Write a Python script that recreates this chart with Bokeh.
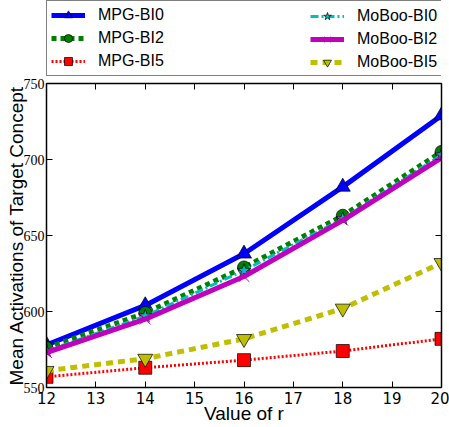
from bokeh.plotting import figure
from bokeh.layouts import column
from bokeh.models import (Range1d, LinearAxis, SingleIntervalTicker, Legend, LegendItem,
                          ColumnDataSource, CustomJSTickFormatter)
from bokeh.embed import file_html
from bokeh.resources import INLINE

# Value of r on the x axis
r = [12, 14, 16, 18, 20]

# Mean activations of the target concept for each method
mpg_bi0 = [578, 604, 638, 682, 729]
mpg_bi2 = [576, 599, 629, 663, 705]
mpg_bi5 = [557, 563, 568, 574, 582]
moboo_bi0 = [574, 597, 627, 661, 703]
moboo_bi2 = [573, 595, 623, 660, 701]
moboo_bi5 = [561, 569, 582, 602, 632]

x_ticks_interval = 1
y_ticks_interval = 50

series = [
    ("MPG-BI0", mpg_bi0, "#0000ff", "solid", 5, "triangle", 15),
    ("MPG-BI2", mpg_bi2, "#008000", "5 4", 5, "circle", 13),
    ("MPG-BI5", mpg_bi5, "#ff0000", "2 2", 3, "square", 13),
    ("MoBoo-BI0", moboo_bi0, "#00bfbf", "8 3 2 3", 3, "star", 14),
    ("MoBoo-BI2", moboo_bi2, "#bf00bf", "solid", 5, "x", 15),
    ("MoBoo-BI5", moboo_bi5, "#bfbf00", "7 5", 5, "inverted_triangle", 15),
]
sources = [ColumnDataSource(dict(x=r, y=vals)) for _, vals, *_ in series]


def draw_series(fig, src, color, dash, lw, marker, size):
    ln = fig.line("x", "y", source=src, line_color=color, line_width=lw, line_dash=dash)
    if marker == "x":
        sc = fig.scatter("x", "y", source=src, marker=marker, size=size,
                         line_color=color, line_width=1)
    else:
        sc = fig.scatter("x", "y", source=src, marker=marker, size=size,
                         fill_color=color, line_color="black", line_width=0.7)
    return ln, sc


# ---- main chart ----
p = figure(width=449, height=350, output_backend="svg", toolbar_location=None,
           x_range=Range1d(12, 20), y_range=Range1d(550, 750),
           min_border_left=46, min_border_right=8, min_border_top=6, min_border_bottom=40,
           x_axis_label="Value of r", y_axis_label="Mean Activations of Target Concept")
p.grid.visible = False
p.outline_line_color = None
p.background_fill_color = "white"
p.border_fill_color = "white"

for ax in p.xaxis:
    ax.ticker = SingleIntervalTicker(interval=x_ticks_interval)
for ax in p.yaxis:
    ax.ticker = SingleIntervalTicker(interval=y_ticks_interval)

for ax in list(p.xaxis) + list(p.yaxis):
    ax.major_tick_in = 6
    ax.major_tick_out = 0
    ax.minor_tick_in = 0
    ax.minor_tick_out = 0
    ax.axis_line_color = "black"
    ax.axis_line_width = 1.5
    ax.major_tick_line_color = "black"
    ax.major_tick_line_width = 1
    ax.axis_label_text_font = "Liberation Sans"
    ax.axis_label_text_font_style = "normal"
    ax.axis_label_text_font_size = "19px"
    ax.axis_label_text_color = "black"
    ax.major_label_text_color = "black"

p.xaxis.major_label_text_font = "DejaVu Sans"
p.xaxis.major_label_text_font_size = "15px"
p.xaxis.major_label_standoff = 4
p.xaxis.axis_label_standoff = -4
p.yaxis.major_label_text_font = "Liberation Sans Narrow"
p.yaxis.major_label_text_font_size = "14px"
p.yaxis.major_label_standoff = 2
p.yaxis.axis_label_standoff = -6

# Frame ticks on the top and right sides without labels
blank = CustomJSTickFormatter(code="return ''")
top = LinearAxis(ticker=SingleIntervalTicker(interval=x_ticks_interval), formatter=blank,
                 major_tick_in=6, major_tick_out=0, minor_tick_in=0, minor_tick_out=0,
                 axis_line_width=1.5, major_label_text_font_size="0px",
                 major_label_standoff=0)
right = LinearAxis(ticker=SingleIntervalTicker(interval=y_ticks_interval), formatter=blank,
                   major_tick_in=6, major_tick_out=0, minor_tick_in=0, minor_tick_out=0,
                   axis_line_width=1.5, major_label_text_font_size="0px",
                   major_label_standoff=0)
p.add_layout(top, "above")
p.add_layout(right, "right")

for (name, vals, color, dash, lw, marker, size), src in zip(series, sources):
    draw_series(p, src, color, dash, lw, marker, size)

# ---- legend strip above the chart ----
# The strip uses a unit range, so the series themselves fall outside its frame
# and only the legend swatches show.
lg = figure(width=449, height=77, output_backend="svg", toolbar_location=None,
            x_range=Range1d(0, 1), y_range=Range1d(0, 1),
            x_axis_location=None, y_axis_location=None,
            min_border_left=0, min_border_right=0, min_border_top=0, min_border_bottom=0)
lg.grid.visible = False
lg.outline_line_color = None
lg.background_fill_color = "white"
lg.border_fill_color = "white"

items = []
for (name, vals, color, dash, lw, marker, size), src in zip(series, sources):
    ln, sc = draw_series(lg, src, color, dash, lw, marker, size)
    items.append(LegendItem(label=name, renderers=[ln, sc]))

legend_style = dict(padding=4, spacing=3, glyph_width=34, glyph_height=20,
                    label_height=20, label_standoff=13,
                    label_text_font="Liberation Sans", label_text_font_size="16px",
                    label_text_color="black", margin=0)

leg_a = Legend(items=items[:3], location=(0, 1), label_width=340,
               border_line_color="black", border_line_width=1.2,
               background_fill_color="white", background_fill_alpha=1,
               **legend_style)
leg_b = Legend(items=items[3:], location=(260, 1), label_width=20,
               border_line_alpha=0, background_fill_alpha=0,
               **legend_style)
lg.add_layout(leg_a, "center")
lg.add_layout(leg_b, "center")

page = column(lg, p, spacing=0)
open("out.html", "w").write(file_html(page, INLINE))
